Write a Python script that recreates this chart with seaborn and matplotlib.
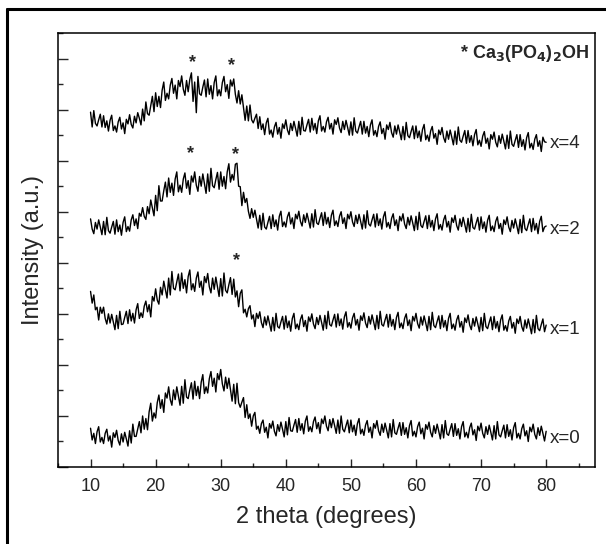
import numpy as np
import pandas as pd
import seaborn as sns
import matplotlib.pyplot as plt
from matplotlib.lines import Line2D
from matplotlib.ticker import MultipleLocator, NullFormatter

# 2 theta grid (degrees), 0.25 deg step
two_theta = np.arange(10, 80.001, 0.25)

# stacked intensities (a.u. x100, offset per pattern)
x0_vals = [
    76, 53, 66, 46, 69, 79, 49, 58,        # 10-11
    46, 66, 74, 51, 61, 39, 67, 58,        # 12-13
    72, 52, 43, 65, 49, 68, 55, 41,        # 14-15
    71, 47, 84, 60, 60, 75, 89, 67,        # 16-17
    100, 74, 95, 73, 108, 125, 90, 106,    # 18-19
    96, 126, 141, 115, 132, 107, 145, 135,  # 20-21
    157, 132, 121, 151, 132, 157, 139, 121,  # 22-23
    158, 125, 171, 137, 134, 151, 165, 133,  # 24-25
    168, 140, 158, 134, 166, 181, 144, 157,  # 26-27
    145, 173, 187, 158, 174, 147, 183, 171,  # 28-29
    191, 163, 149, 176, 154, 174, 152, 129,  # 30-31
    162, 124, 164, 126, 117, 127, 136, 97,   # 32-33
    122, 95, 104, 80, 100, 107, 74, 80,      # 34-35
    66, 85, 92, 68, 78, 57, 85, 76,          # 36-37
    90, 70, 61, 83, 70, 88, 74, 59,          # 38-39
    89, 63, 97, 71, 70, 82, 93, 68,          # 40-41
    95, 72, 85, 65, 90, 100, 70, 79,         # 42-43
    69, 89, 98, 75, 87, 66, 94, 85,          # 44-45
    100, 80, 71, 93, 77, 95, 81, 66,         # 46-47
    92, 66, 100, 74, 69, 81, 92, 67,         # 48-49
    92, 69, 82, 62, 85, 95, 65, 74,          # 50-51
    62, 82, 91, 68, 78, 57, 85, 76,          # 52-53
    91, 71, 62, 84, 68, 86, 72, 57,          # 54-55
    85, 59, 93, 67, 64, 76, 87, 62,          # 56-57
    87, 64, 77, 57, 81, 91, 61, 70,          # 58-59
    59, 79, 88, 65, 76, 55, 83, 74,          # 60-61
    88, 68, 59, 81, 66, 84, 70, 55,          # 62-63
    83, 57, 91, 65, 62, 74, 85, 60,          # 64-65
    85, 62, 75, 55, 79, 89, 59, 68,          # 66-67
    57, 77, 86, 63, 73, 52, 80, 71,          # 68-69
    86, 66, 57, 79, 64, 82, 68, 53,          # 70-71
    81, 55, 89, 63, 59, 71, 82, 57,          # 72-73
    83, 60, 73, 53, 77, 87, 57, 66,          # 74-75
    55, 75, 84, 61, 71, 50, 78, 69,          # 76-77
    84, 64, 55, 77, 62, 80, 66, 51,          # 78-79
    70,
]
x1_vals = [
    344, 321, 337, 308, 313, 288, 313, 301,  # 10-11
    313, 291, 280, 300, 282, 299, 284, 269,  # 12-13
    297, 271, 305, 279, 280, 293, 305, 281,  # 14-15
    308, 286, 301, 282, 308, 320, 291, 302,  # 16-17
    293, 315, 325, 304, 318, 294, 334, 325,  # 18-19
    349, 327, 319, 352, 337, 364, 347, 331,  # 20-21
    370, 337, 383, 350, 347, 363, 378, 345,  # 22-23
    380, 350, 367, 341, 373, 386, 347, 359,  # 24-25
    344, 370, 382, 352, 364, 337, 373, 361,  # 26-27
    379, 353, 341, 370, 348, 372, 353, 334,  # 28-29
    369, 335, 380, 346, 341, 357, 371, 338,  # 30-31
    368, 333, 345, 314, 340, 347, 302, 309,  # 32-33
    294, 310, 316, 290, 298, 275, 301, 291,  # 34-35
    304, 283, 273, 294, 278, 296, 281, 266,  # 36-37
    293, 267, 301, 275, 272, 284, 295, 270,  # 38-39
    296, 273, 286, 266, 291, 301, 271, 280,  # 40-41
    269, 289, 298, 275, 287, 266, 294, 285,  # 42-43
    300, 280, 271, 293, 279, 297, 283, 268,  # 44-45
    297, 271, 305, 279, 276, 288, 299, 274,  # 46-47
    300, 277, 290, 270, 294, 304, 274, 283,  # 48-49
    272, 292, 301, 278, 289, 268, 296, 287,  # 50-51
    302, 282, 273, 295, 280, 298, 284, 269,  # 52-53
    297, 271, 305, 279, 276, 288, 299, 274,  # 54-55
    299, 276, 289, 269, 293, 303, 273, 282,  # 56-57
    271, 291, 300, 277, 288, 267, 295, 286,  # 58-59
    301, 281, 272, 294, 278, 296, 282, 267,  # 60-61
    295, 269, 303, 277, 273, 285, 296, 271,  # 62-63
    297, 274, 287, 267, 291, 301, 271, 280,  # 64-65
    268, 288, 297, 274, 285, 264, 292, 283,  # 66-67
    298, 278, 269, 291, 276, 294, 280, 265,  # 68-69
    293, 267, 301, 275, 271, 283, 294, 269,  # 70-71
    295, 272, 285, 265, 288, 298, 268, 277,  # 72-73
    266, 286, 295, 272, 283, 262, 290, 281,  # 74-75
    295, 275, 266, 288, 272, 290, 276, 261,  # 76-77
    289, 263, 297, 271, 267, 279, 290, 265,  # 78-79
    278,
]
x2_vals = [
    486, 466, 457, 479, 466, 484, 470, 455,  # 10-11
    481, 455, 489, 463, 458, 470, 481, 456,  # 12-13
    484, 461, 474, 454, 479, 490, 461, 471,  # 14-15
    462, 484, 494, 473, 486, 467, 497, 491,  # 16-17
    508, 491, 485, 510, 496, 523, 508, 492,  # 18-19
    532, 502, 551, 521, 521, 541, 558, 529,  # 20-21
    566, 538, 556, 532, 564, 578, 539, 552,  # 22-23
    538, 564, 576, 546, 561, 534, 570, 558,  # 24-25
    578, 552, 540, 569, 550, 574, 555, 536,  # 26-27
    574, 540, 585, 551, 547, 563, 577, 544,  # 28-29
    578, 550, 569, 545, 578, 594, 558, 573,  # 30-31
    562, 593, 595, 550, 549, 512, 538, 518,  # 32-33
    526, 501, 487, 506, 489, 503, 486, 468,  # 34-35
    493, 465, 497, 470, 466, 479, 491, 467,  # 36-37
    494, 471, 484, 464, 491, 501, 471, 480,  # 38-39
    470, 490, 499, 476, 488, 467, 495, 486,  # 40-41
    501, 481, 472, 494, 479, 497, 483, 468,  # 42-43
    496, 470, 504, 478, 475, 487, 498, 473,  # 44-45
    499, 476, 489, 469, 493, 503, 473, 482,  # 46-47
    471, 491, 500, 477, 488, 467, 495, 486,  # 48-49
    500, 480, 471, 493, 477, 495, 481, 466,  # 50-51
    494, 468, 502, 476, 472, 484, 495, 470,  # 52-53
    496, 473, 486, 466, 490, 500, 470, 479,  # 54-55
    467, 487, 496, 473, 484, 463, 491, 482,  # 56-57
    496, 476, 467, 489, 474, 492, 478, 463,  # 58-59
    491, 465, 499, 473, 469, 481, 492, 467,  # 60-61
    493, 470, 483, 463, 486, 496, 466, 475,  # 62-63
    464, 484, 493, 470, 481, 460, 488, 479,  # 64-65
    493, 473, 464, 486, 471, 489, 475, 460,  # 66-67
    487, 461, 495, 469, 466, 478, 489, 464,  # 68-69
    490, 467, 480, 460, 483, 493, 463, 472,  # 70-71
    461, 481, 490, 467, 477, 456, 484, 475,  # 72-73
    490, 470, 461, 483, 468, 486, 472, 457,  # 74-75
    485, 459, 493, 467, 463, 475, 486, 461,  # 76-77
    487, 464, 477, 457, 481, 491, 461, 470,  # 78-79
    472,
]
x4_vals = [
    695, 666, 698, 673, 668, 680, 691, 666,  # 10-11
    688, 665, 678, 658, 679, 689, 659, 668,  # 12-13
    656, 676, 685, 662, 674, 653, 681, 672,  # 14-15
    690, 671, 664, 687, 674, 694, 683, 670,  # 16-17
    701, 678, 715, 692, 689, 708, 726, 696,  # 18-19
    733, 706, 726, 704, 738, 754, 718, 732,  # 20-21
    721, 748, 761, 732, 748, 721, 757, 745,  # 22-23
    766, 740, 728, 757, 735, 759, 772, 716,  # 24-25
    754, 694, 765, 731, 728, 744, 758, 725,  # 26-27
    760, 730, 747, 721, 753, 766, 727, 739,  # 28-29
    727, 753, 765, 735, 749, 722, 758, 746,  # 30-31
    760, 730, 713, 737, 711, 729, 704, 679,  # 32-33
    707, 678, 709, 680, 674, 683, 691, 663,  # 34-35
    686, 661, 672, 651, 674, 683, 652, 660,  # 36-37
    646, 666, 675, 652, 665, 644, 672, 663,  # 38-39
    680, 660, 651, 673, 659, 677, 663, 648,  # 40-41
    677, 651, 685, 659, 658, 670, 681, 656,  # 42-43
    683, 660, 673, 653, 678, 688, 658, 667,  # 44-45
    656, 676, 685, 662, 673, 652, 680, 671,  # 46-47
    684, 664, 655, 677, 661, 679, 665, 650,  # 48-49
    676, 650, 684, 658, 654, 666, 677, 652,  # 50-51
    677, 654, 667, 647, 670, 680, 650, 659,  # 52-53
    647, 667, 676, 653, 663, 642, 670, 661,  # 54-55
    675, 655, 646, 668, 652, 670, 656, 641,  # 56-57
    667, 641, 675, 649, 645, 657, 668, 643,  # 58-59
    668, 645, 658, 638, 661, 671, 641, 650,  # 60-61
    638, 658, 667, 644, 653, 632, 660, 651,  # 62-63
    665, 645, 636, 658, 642, 660, 646, 631,  # 64-65
    658, 632, 666, 640, 636, 648, 659, 634,  # 66-67
    659, 636, 649, 629, 651, 661, 631, 640,  # 68-69
    628, 648, 657, 634, 644, 623, 651, 642,  # 70-71
    656, 636, 627, 649, 634, 652, 638, 623,  # 72-73
    650, 624, 658, 632, 628, 640, 651, 626,  # 74-75
    651, 628, 641, 621, 645, 655, 625, 634,  # 76-77
    622, 642, 651, 628, 639, 618, 646, 637,  # 78-79
    636,
]

series_names = ["x=0", "x=1", "x=2", "x=4"]
series_vals = [x0_vals, x1_vals, x2_vals, x4_vals]
label_y = [0.56, 2.69, 4.65, 6.33]

# Ca3(PO4)2OH reflections marked with *
star_x = [25.7, 31.6, 25.3, 32.2, 32.5]
star_y = [7.92, 7.86, 6.14, 6.11, 4.05]

sns.set_style("ticks")
plt.rcParams['font.family'] = ['Liberation Sans', 'DejaVu Sans']

fig = plt.figure(figsize=(6.06, 5.44), dpi=100)
ax = fig.add_axes([0.0957, 0.1415, 0.8861, 0.7978])

for name, vals in zip(series_names, series_vals):
    df = pd.DataFrame({"two_theta": two_theta[:len(vals)], "intensity": np.array(vals) / 100.0})
    sns.lineplot(data=df, x="two_theta", y="intensity", ax=ax, color="black",
                 linewidth=1.0, estimator=None, sort=False)

for name, ly in zip(series_names, label_y):
    ax.text(80.6, ly, name, fontsize=13.5, ha="left", va="center")

for sx, sy in zip(star_x, star_y):
    ax.text(sx, sy, "*", fontsize=13, fontweight="bold", ha="center", va="center")

ax.text(86.6, 8.09, r"* Ca$_\mathbf{3}$(PO$_\mathbf{4}$)$_\mathbf{2}$OH", fontsize=13,
        fontweight="bold", ha="right", va="center")

ax.set_xlim(5, 87.5)
ax.set_ylim(0, 8.5)
ax.xaxis.set_major_locator(MultipleLocator(10))
ax.xaxis.set_minor_locator(MultipleLocator(5))
ax.yaxis.set_major_locator(MultipleLocator(1))
ax.yaxis.set_minor_locator(MultipleLocator(0.5))
ax.set_xticks(range(10, 81, 10))
ax.tick_params(axis="x", which="major", direction="in", length=6, width=1, labelsize=13, pad=8)
ax.tick_params(axis="x", which="minor", direction="in", length=3, width=1)
ax.tick_params(axis="y", which="major", direction="in", length=7, width=1, labelleft=False)
ax.tick_params(axis="y", which="minor", direction="in", length=3.5, width=1)
ax.yaxis.set_minor_formatter(NullFormatter())
for sp in ax.spines.values():
    sp.set_linewidth(1.1)
    sp.set_color("black")

ax.set_xlabel("2 theta (degrees)", fontsize=17, labelpad=8)
ax.set_ylabel("Intensity (a.u.)", fontsize=17, labelpad=7)

# outer frame of the original figure (left and top edges)
fig.add_artist(Line2D([7 / 606, 7 / 606], [0, 1 - 9 / 544], color="black", linewidth=2.2,
                      transform=fig.transFigure))
fig.add_artist(Line2D([7 / 606, 1], [1 - 9 / 544, 1 - 9 / 544], color="black", linewidth=2.2,
                      transform=fig.transFigure))

fig.savefig("out.png", dpi=100)
